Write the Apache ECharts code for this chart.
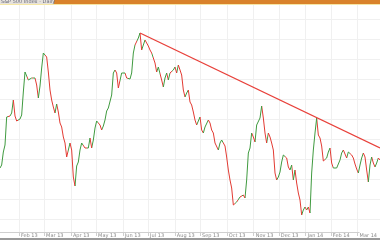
<!DOCTYPE html>
<html>
<head>
<meta charset="utf-8">
<script src="https://cdn.jsdelivr.net/npm/echarts@6/dist/echarts.min.js"></script>
<style>
html,body{margin:0;padding:0;background:#fff;}
#chart{width:380px;height:240px;}
</style>
</head>
<body>
<div id="chart"></div>
<script>
// Daily closes (index value)
const closes = [
1051,1054,1067,1074,1102,1104,1103,1106,1119,1103,
1098,1096,1100,1104,1127,1147,1147,1139,1140,1141,
1139,1141,1134,1121,1133,1151,1166,1167,1162,1147,
1129,1119,1112,1106,1115,1107,1096,1092,1082,1076,
1062,1061,1076,1069,1042,1033,1053,1057,1069,1076,
1076,1071,1070,1071,1081,1071,1079,1091,1098,1099,
1094,1089,1093,1099,1108,1111,1112,1124,1146,1149,
1146,1131,1129,1146,1146,1146,1141,1140,1140,1146,
1166,1174,1173,1181,1186,1169,1174,1179,1176,1173,
1169,1166,1167,1156,1147,1152,1152,1139,1132,1141,
1146,1139,1146,1144,1149,1152,1146,1154,1149,1144,
1129,1122,1126,1129,1117,1114,1107,1099,1094,1096,
1102,1089,1086,1092,1092,1099,1096,1089,1086,1076,
1074,1069,1076,1079,1081,1073,1062,1049,1039,1031,
1014,1012,1017,1016,1022,1021,1024,1021,1039,1066,
1071,1086,1082,1077,1094,1096,1101,1113,1101,1086,
1076,1086,1082,1076,1069,1046,1039,1042,1047,1057,
1064,1066,1061,1052,1049,1054,1039,1049,1036,1026,
1019,1004,1009,1012,1009,1012,1006,1046,1069,1086,
1101,1084,1081,1073,1058,1056,1061,1067,1071,1056,
1051,1051,1051,1052,1059,1066,1069,1067,1061,1067,
1068,1064,1061,1055,1050,1046,1054,1061,1066,1062,
1049,1037,1054,1062,1056,1052,1056,1061,1059
];
const tickIndex = [12,28,45,61,78,94,111,127,144,161,177,194,210,227];
const tickLabels = ['Feb 13','Mar 13','Apr 13','May 13','Jun 13','Jul 13','Aug 13','Sep 13','Oct 13','Nov 13','Dec 13','Jan 14','Feb 14','Mar 14'];
const trendStart = [84, 1186];
const trendEnd = [228, 1071];
const titleText = 'S&P 500 Index - Daily';

const UP = '#3f9a3f', DOWN = '#e23a32';
const days = closes.map((_, i) => String(i));
const labelAt = {};
tickIndex.forEach((t, k) => { labelAt[t] = tickLabels[k]; });

const pieces = [];
for (let i = 0; i < closes.length - 1; i++) {
  const c = closes[i + 1] >= closes[i] ? UP : DOWN;
  const last = pieces[pieces.length - 1];
  if (last && last.color === c) { last.lt = i + 1; }
  else pieces.push({ gte: i, lt: i + 1, color: c });
}
pieces[pieces.length - 1].lt = closes.length;

const trend = closes.map((_, i) => i === trendStart[0] ? trendStart[1] : (i === trendEnd[0] ? trendEnd[1] : null));

const chart = echarts.init(document.getElementById('chart'));
chart.setOption({
  animation: false,
  backgroundColor: '#ffffff',
  grid: [
    { left: 0, right: 0, top: 19, height: 200, containLabel: false },
    { left: 0, right: 0, top: 5, bottom: 8, containLabel: false }
  ],
  xAxis: [
    { type: 'category', gridIndex: 0, data: days, boundaryGap: false, show: false },
    { type: 'category', gridIndex: 1, data: days, boundaryGap: false,
      axisLine: { show: true, lineStyle: { color: '#cfcfcf', width: 1 } },
      axisTick: { show: true, interval: (i) => labelAt[i] !== undefined, length: 4, lineStyle: { color: '#cfcfcf' } },
      splitLine: { show: true, interval: (i) => labelAt[i] !== undefined, lineStyle: { color: '#f0f0f0', width: 1 } },
      axisLabel: { show: true, interval: (i) => labelAt[i] !== undefined, formatter: (v, i) => labelAt[i] || '',
        fontSize: 5, color: '#8a8a8a', align: 'left', margin: 1, padding: [0, 0, 0, 2], fontFamily: 'DejaVu Sans' }
    }
  ],
  yAxis: [
    { type: 'value', gridIndex: 0, min: 1000, max: 1200, interval: 20,
      axisLine: { show: false }, axisTick: { show: false }, axisLabel: { show: false },
      splitLine: { show: true, lineStyle: { color: '#f0f0f0', width: 1 } } },
    { type: 'value', gridIndex: 1, show: false, splitLine: { show: false } }
  ],
  visualMap: {
    show: false, seriesIndex: 0, dimension: 0, pieces: pieces, outOfRange: { color: DOWN }
  },
  series: [
    { type: 'line', xAxisIndex: 0, yAxisIndex: 0, data: closes, symbol: 'none', smooth: false,
      lineStyle: { width: 1 } },
    { type: 'line', xAxisIndex: 0, yAxisIndex: 0, data: trend, connectNulls: true, symbol: 'none',
      lineStyle: { width: 1.3, color: '#e8403a' }, itemStyle: { color: '#e8403a' } }
  ],
  graphic: [
    { type: 'rect', left: 0, top: 0, shape: { width: 380, height: 4 }, style: { fill: '#d9822b' }, z: 100 },
    { type: 'rect', left: 0, top: 0, shape: { width: 54, height: 4 }, style: { fill: '#e6e2dc' }, z: 100 },
    { type: 'rect', left: 0, top: 4, shape: { width: 380, height: 1 }, style: { fill: '#f6e7a6' }, z: 100 },
    { type: 'text', left: 1, top: -1, style: { text: titleText, fontSize: 5, fill: '#6a6a7a', fontFamily: 'DejaVu Sans' }, z: 101 },
    { type: 'rect', left: 0, top: 238, shape: { width: 380, height: 2 }, style: { fill: '#9a9a9a' }, z: 100 }
  ]
});
</script>
</body>
</html>
